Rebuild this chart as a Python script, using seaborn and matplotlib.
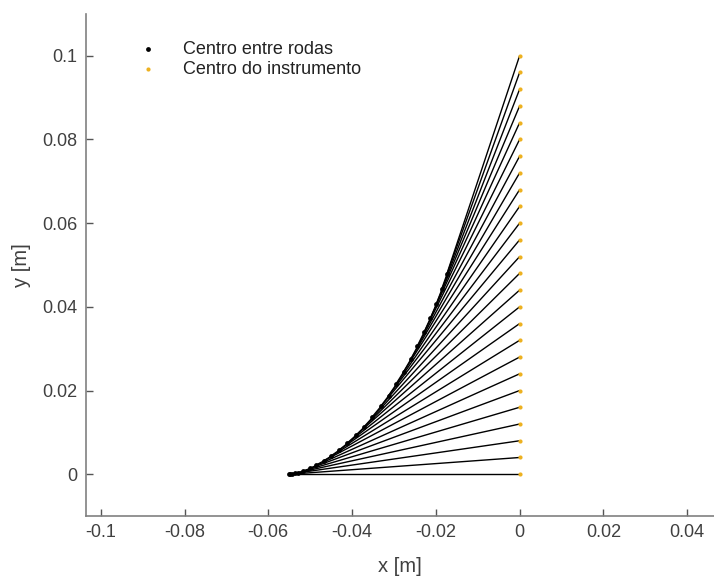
import matplotlib
matplotlib.use("Agg")
import matplotlib.pyplot as plt
import numpy as np
import pandas as pd
import seaborn as sns
from matplotlib.ticker import FuncFormatter


# instrument centre (x = 0) and wheel-axle centre
instr_y = [0.000, 0.004, 0.008, 0.012, 0.016, 0.020, 0.024, 0.028, 0.032,
           0.036, 0.040, 0.044, 0.048, 0.052, 0.056, 0.060, 0.064, 0.068,
           0.072, 0.076, 0.080, 0.084, 0.088, 0.092, 0.096, 0.100]
instr_x = [0.0] * len(instr_y)

wheel_x = [-0.0550, -0.0549, -0.0544, -0.0537, -0.0528, -0.0516, -0.0501,
           -0.0486, -0.0468, -0.0450, -0.0431, -0.0411, -0.0391, -0.0371,
           -0.0352, -0.0332, -0.0313, -0.0295, -0.0277, -0.0260, -0.0244,
           -0.0228, -0.0213, -0.0199, -0.0186, -0.0174]
wheel_y = [0.0000, 0.0000, 0.0001, 0.0002, 0.0004, 0.0008, 0.0014, 0.0022,
           0.0032, 0.0044, 0.0058, 0.0075, 0.0093, 0.0114, 0.0137, 0.0162,
           0.0188, 0.0216, 0.0245, 0.0275, 0.0307, 0.0340, 0.0373, 0.0407,
           0.0443, 0.0478]

ORANGE = "#EDB120"
GREY = "#404040"

sns.set_theme(style="white")
plt.rcParams["font.family"] = ["Liberation Sans", "DejaVu Sans"]

fig = plt.figure(figsize=(7.14, 5.76), dpi=100)
ax = fig.add_axes([0.12, 0.104, 0.88, 0.872])

for xw, yw, xi, yi in zip(wheel_x, wheel_y, instr_x, instr_y):
    ax.plot([xw, xi], [yw, yi], color="black", lw=1.0, zorder=1)

df_wheel = pd.DataFrame({"x": wheel_x, "y": wheel_y})
df_instr = pd.DataFrame({"x": instr_x, "y": instr_y})
sns.scatterplot(data=df_wheel, x="x", y="y", color="black", s=12,
                linewidth=0, ax=ax, label="Centro entre rodas", zorder=3)
sns.scatterplot(data=df_instr, x="x", y="y", color=ORANGE, s=9,
                linewidth=0, ax=ax, label="Centro do instrumento", zorder=3)

ax.set_xlim(-0.1036, 0.0464)
ax.set_ylim(-0.01, 0.11)
ax.set_xticks(np.arange(-0.1, 0.041, 0.02))
ax.set_yticks(np.arange(0, 0.101, 0.02))
fmt = FuncFormatter(lambda v, p: "%g" % round(v, 4))
ax.xaxis.set_major_formatter(fmt)
ax.yaxis.set_major_formatter(fmt)

ax.set_xlabel("x [m]", fontsize=14.5, color=GREY, labelpad=11)
ax.set_ylabel("y [m]", fontsize=14.5, color=GREY, labelpad=8)
ax.tick_params(direction="in", length=5, width=1, colors="#555555",
               labelcolor=GREY, labelsize=13, pad=6,
               bottom=True, left=True)

for side in ["top", "right"]:
    ax.spines[side].set_visible(False)
for side in ["left", "bottom"]:
    ax.spines[side].set_color("#808080")
    ax.spines[side].set_linewidth(1.2)

ax.legend(loc="upper left", bbox_to_anchor=(0.044, 0.978), frameon=False,
          fontsize=13, markerscale=1.0, handletextpad=0.94,
          labelspacing=0.15, labelcolor="#222222")

plt.savefig("out.png", dpi=100)
plt.close()
